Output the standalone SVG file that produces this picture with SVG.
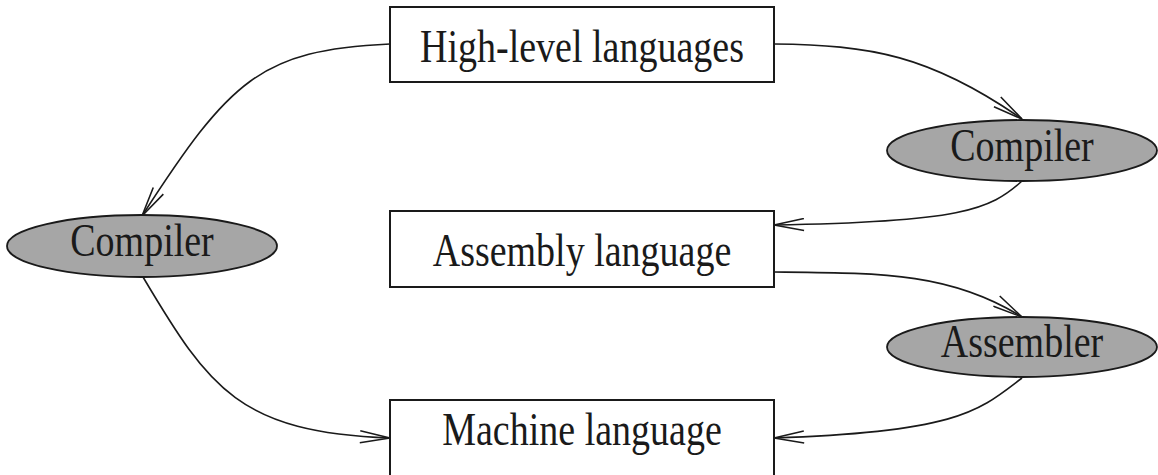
<svg xmlns="http://www.w3.org/2000/svg" width="1158" height="475" viewBox="0 0 1158 475">
  <defs>
    <marker id="arrow" viewBox="0 0 32 14" refX="31" refY="7" markerWidth="32" markerHeight="14" markerUnits="userSpaceOnUse" orient="auto">
      <path d="M1,1 L31,7 L1,13" fill="none" stroke="#1a1a1a" stroke-width="1.6"/>
    </marker>
  </defs>
  <style>
    .box { fill: #ffffff; stroke: #1a1a1a; stroke-width: 2; }
    .oval { fill: #a6a6a6; stroke: #1a1a1a; stroke-width: 1.8; }
    .lbl { font-family: "Liberation Serif", "Times New Roman", serif; font-size: 38px; fill: #1a1a1a; text-anchor: middle; }
    .edge { fill: none; stroke: #1a1a1a; stroke-width: 1.6; marker-end: url(#arrow); }
  </style>
  <rect width="1158" height="475" fill="#ffffff"/>

  <g id="edges">
    <path class="edge" d="M774,44 C870,45 930,55 1022,119"/>
    <path class="edge" d="M1022,181 C990,210 960,222 774,225"/>
    <path class="edge" d="M774,272 C880,273 950,272 1022,317"/>
    <path class="edge" d="M1022,378 C980,410 960,432 774,438"/>
    <path class="edge" d="M390,44 C260,50 230,80 142,216"/>
    <path class="edge" d="M143,277 C210,390 240,432 390,438"/>
  </g>

  <g id="high-level">
    <rect class="box" x="390" y="7" width="384" height="75"/>
    <text class="lbl" transform="translate(582,62) scale(1,1.2)">High-level languages</text>
  </g>
  <g id="compiler-right">
    <ellipse class="oval" cx="1022" cy="150.5" rx="135" ry="30.5"/>
    <text class="lbl" transform="translate(1022,161) scale(1,1.2)">Compiler</text>
  </g>
  <g id="assembly">
    <rect class="box" x="390" y="211" width="384" height="76"/>
    <text class="lbl" transform="translate(582,266) scale(1,1.2)">Assembly language</text>
  </g>
  <g id="compiler-left">
    <ellipse class="oval" cx="142" cy="246" rx="135" ry="31"/>
    <text class="lbl" transform="translate(142,256) scale(1,1.2)">Compiler</text>
  </g>
  <g id="assembler">
    <ellipse class="oval" cx="1022" cy="347" rx="135" ry="30"/>
    <text class="lbl" transform="translate(1022,357) scale(1,1.2)">Assembler</text>
  </g>
  <g id="machine">
    <rect class="box" x="390" y="400" width="384" height="77"/>
    <text class="lbl" transform="translate(582,445) scale(1,1.2)">Machine language</text>
  </g>
</svg>
